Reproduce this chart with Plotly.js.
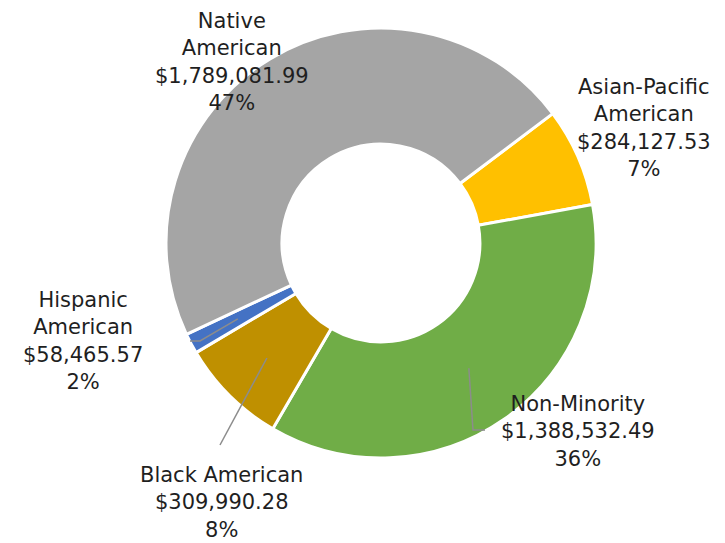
<!DOCTYPE html>
<html>
<head>
<meta charset="utf-8">
<script src="https://cdn.plot.ly/plotly-3.0.1.min.js"></script>
<style>html,body{margin:0;padding:0;background:#fff;}#chart{width:725px;height:543px;}</style>
</head>
<body>
<div id="chart"></div>
<script>
const categories = ["Asian-Pacific American", "Non-Minority", "Black American", "Hispanic American", "Native American"];
const labelLines = ["Asian-Pacific<br>American", "Non-Minority", "Black American", "Hispanic<br>American", "Native<br>American"];
const values = [284127.53, 1388532.49, 309990.28, 58465.57, 1789081.99];
const colors = ["#FFC000", "#70AD47", "#BF9000", "#4472C4", "#A5A5A5"];

const W = 725, H = 543;
const cx = 381, cy = 243, R = 215;
const rotation = 53;
const total = values.reduce((a, b) => a + b, 0);

function fmt(v) {
  return "$" + v.toLocaleString("en-US", {minimumFractionDigits: 2, maximumFractionDigits: 2});
}

// label anchor positions (pixels, center of text block)
const labelPos = [
  [644, 128], [578, 431], [221, 502], [83, 341], [232, 62]
];

const annotations = categories.map((c, i) => ({
  xref: "paper", yref: "paper",
  x: labelPos[i][0] / W, y: 1 - labelPos[i][1] / H,
  xanchor: "center", yanchor: "middle",
  text: labelLines[i] + "<br>" + fmt(values[i]) + "<br>" + Math.round(values[i] / total * 100) + "%",
  showarrow: false, align: "center",
  font: {family: "'DejaVu Sans', sans-serif", size: 21, color: "#1f1f1f"}
}));

// leader lines starting at slice mid-points (computed from data)
function midPoint(i, r) {
  let cum = 0;
  for (let k = 0; k < i; k++) cum += values[k];
  const frac = (cum + values[i] / 2) / total;
  const ang = (rotation + frac * 360) * Math.PI / 180;
  return [cx + r * Math.sin(ang), cy - r * Math.cos(ang)];
}
function px(x) { return x / W; }
function py(y) { return 1 - y / H; }
const leaderDefs = [
  {i: 3, r: 162, pts: [[200, 341], [190, 341]]},
  {i: 2, r: 162, pts: [[220, 445]]},
  {i: 1, r: 153, pts: [[473, 430], [485, 430]]}
];
const shapes = leaderDefs.map(d => {
  const s = midPoint(d.i, d.r);
  let path = "M" + px(s[0]) + "," + py(s[1]);
  d.pts.forEach(p => { path += " L" + px(p[0]) + "," + py(p[1]); });
  return {type: "path", xref: "paper", yref: "paper", path: path,
          line: {color: "#8c8c8c", width: 1.5}};
});

const trace = {
  type: "pie",
  labels: categories,
  values: values,
  hole: 0.46,
  sort: false,
  direction: "clockwise",
  rotation: rotation,
  textinfo: "none",
  marker: {colors: colors, line: {color: "#ffffff", width: 3}},
  domain: {x: [(cx - R) / W, (cx + R) / W], y: [1 - (cy + R) / H, 1 - (cy - R) / H]},
  showlegend: false,
  hoverinfo: "label+value+percent"
};

const layout = {
  width: W, height: H,
  margin: {l: 0, r: 0, t: 0, b: 0},
  paper_bgcolor: "#ffffff",
  showlegend: false,
  annotations: annotations,
  shapes: shapes
};

Plotly.newPlot("chart", [trace], layout, {displayModeBar: false, staticPlot: true});
</script>
</body>
</html>
